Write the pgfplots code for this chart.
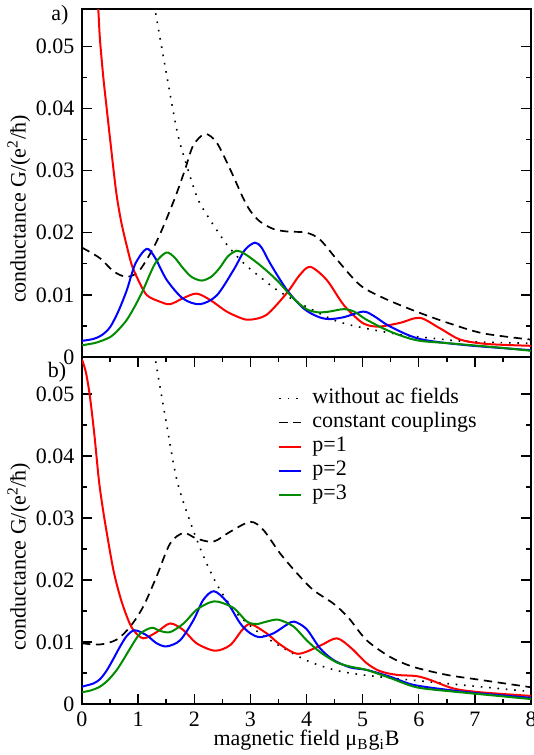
\documentclass[border=0pt]{standalone}
\usepackage{fontspec}
\setmainfont{Liberation Serif}
\usepackage{pgfplots}
\pgfplotsset{compat=1.18}
\definecolor{gred}{RGB}{255,0,0}
\definecolor{gblue}{RGB}{0,0,255}
\definecolor{ggreen}{RGB}{0,139,0}
\begin{document}
\fontsize{11}{13}\selectfont
\begin{tikzpicture}
\useasboundingbox (-41pt,-199pt) rectangle (226pt,178.5pt);
\pgfplotsset{
  common/.style={
    scale only axis, width=224.5pt,
    xmin=0, xmax=8, ymin=0, ymax=0.056,
    tick align=inside, ytick pos=both,
    ytick={0,0.01,0.02,0.03,0.04,0.05}, minor y tick num=1,
    yticklabel style={/pgf/number format/fixed,/pgf/number format/precision=2},
    scaled y ticks=false,
    /pgf/number format/assume math mode=true,
    tick label style={font=\fontsize{11}{13}\selectfont},
    label style={font=\fontsize{11}{13}\selectfont},
    major tick length=5pt, minor tick length=2.5pt,
    axis line style={line width=0.9pt},
    every tick/.style={black,line width=0.7pt},
    ylabel={conductance G/(e\textsuperscript{2}/ħ)},
    ylabel style={at={(axis description cs:-0.098,0.425)}, anchor=south},
    every axis plot/.append style={smooth},
  },
  pdot/.style={black, line width=0.8pt, dash pattern=on 0.8pt off 3.4pt},
  pdash/.style={black, line width=0.85pt, dash pattern=on 4.2pt off 2.8pt},
  pred/.style={gred, line width=1pt},
  pblue/.style={gblue, line width=1pt},
  pgreen/.style={ggreen, line width=1pt},
}
% ---------- panel a ----------
\begin{axis}[common, height=174pt, at={(0pt,0pt)}, anchor=south west,
  xtick=\empty]
\addplot[pdot] coordinates {(1.2,0.062) (1.30,0.056) (1.48,0.0468) (1.70,0.0361) (1.87,0.0307) (2.06,0.0255) (2.28,0.0221) (2.58,0.0181) (2.88,0.0151) (3.17,0.0129) (3.47,0.0108) (3.77,0.0092) (4.06,0.0078) (4.5,0.0059) (4.95,0.0048) (5.67,0.0036) (6.26,0.0030) (6.85,0.0025) (8,0.0022)};
\addplot[pdash] coordinates {(0,0.0176) (0.32,0.0159) (0.56,0.0138) (0.80,0.0129) (1.03,0.0140) (1.33,0.0186) (1.63,0.0250) (1.83,0.0300) (1.98,0.0340) (2.19,0.0359) (2.40,0.0345) (2.64,0.0302) (2.87,0.0256) (3.0,0.0235) (3.17,0.0218) (3.41,0.0206) (3.65,0.0202) (4.0,0.0200) (4.24,0.0189) (4.54,0.0157) (4.95,0.0116) (5.37,0.0095) (5.96,0.0073) (6.55,0.0054) (7.15,0.0038) (8,0.0028)};
\addplot[pred] coordinates {(0,0.115) (0.1,0.09) (0.2,0.070) (0.29,0.056) (0.32,0.0511) (0.38,0.045) (0.44,0.040) (0.52,0.0335) (0.61,0.0265) (0.70,0.0217) (0.80,0.0178) (0.88,0.0150) (0.97,0.0130) (1.15,0.0100) (1.39,0.0089) (1.57,0.0085) (1.81,0.0095) (2.04,0.0102) (2.28,0.0092) (2.58,0.0073) (2.85,0.0062) (3.0,0.0060) (3.29,0.0068) (3.65,0.0103) (3.88,0.0132) (4.07,0.0145) (4.36,0.0124) (4.66,0.0084) (4.95,0.0058) (5.1,0.0051) (5.31,0.0049) (5.67,0.0055) (6.02,0.0063) (6.38,0.0046) (6.74,0.0028) (7.21,0.0021) (8,0.0018)};
\addplot[pblue] coordinates {(0,0.0026) (0.2,0.0029) (0.35,0.0035) (0.5,0.0048) (0.65,0.0074) (0.8,0.0108) (0.95,0.0150) (1.15,0.0174) (1.30,0.0160) (1.51,0.0124) (1.8,0.0094) (2.10,0.0085) (2.4,0.0099) (2.7,0.0140) (2.9,0.0172) (3.08,0.0184) (3.2,0.0176) (3.35,0.0151) (3.65,0.0108) (3.95,0.0078) (4.2,0.0065) (4.4,0.0061) (4.66,0.0064) (5.01,0.0073) (5.2,0.0066) (5.49,0.0049) (6.02,0.0029) (6.85,0.0019) (8,0.0011)};
\addplot[pgreen] coordinates {(0,0.0019) (0.25,0.0023) (0.5,0.0032) (0.65,0.0044) (0.8,0.0060) (0.95,0.0083) (1.09,0.0108) (1.3,0.0150) (1.50,0.0168) (1.65,0.0160) (1.8,0.0143) (1.95,0.0129) (2.13,0.0123) (2.3,0.0129) (2.45,0.0143) (2.6,0.0162) (2.76,0.0171) (2.9,0.0166) (3.1,0.0153) (3.3,0.0138) (3.5,0.0121) (3.77,0.0094) (4.0,0.0077) (4.2,0.0072) (4.4,0.0073) (4.66,0.0077) (4.85,0.0073) (5.07,0.0060) (5.49,0.0041) (5.96,0.0027) (6.55,0.0022) (7.45,0.0015) (8,0.0010)};
\end{axis}
% ---------- panel b ----------
\begin{axis}[common, height=173.5pt, at={(0pt,0pt)}, anchor=north west,
  xtick={0,1,2,3,4,5,6,7,8}, minor x tick num=1, xtick pos=both, xticklabel pos=bottom,
  xlabel={magnetic field μ\textsubscript{B}g\textsubscript{i}B},
  xlabel style={at={(axis description cs:0.5,-0.121)}, anchor=base},
  legend style={at={(0.4365,0.916)}, anchor=north west, draw=none, fill=none, inner sep=0pt,
    font=\fontsize{11}{13}\selectfont, nodes={inner sep=1pt, text height=7.5pt, text depth=2.5pt},
    row sep=0pt, column sep=4pt, cells={anchor=west}},
  legend image code/.code={\draw[#1] (0pt,0pt) -- (11pt,0pt);}]
\addplot[pdot] coordinates {(1.2,0.062) (1.30,0.056) (1.5,0.0455) (1.70,0.0358) (1.98,0.0281) (2.22,0.0227) (2.46,0.0184) (2.76,0.0146) (3.17,0.0114) (3.65,0.0087) (4.06,0.0068) (4.54,0.0054) (5.0,0.0047) (5.6,0.0041) (6.5,0.0033) (8,0.0020)};
\addlegendentry{without ac fields}
\addplot[pdash] coordinates {(0,0.0098) (0.32,0.0096) (0.62,0.0104) (0.86,0.0125) (1.09,0.0157) (1.33,0.0206) (1.57,0.0259) (1.81,0.0276) (2.04,0.0267) (2.34,0.0262) (2.64,0.0278) (3.0,0.0294) (3.23,0.0281) (3.53,0.0243) (3.83,0.0211) (4.12,0.0184) (4.48,0.0162) (4.75,0.0139) (5.07,0.0103) (5.49,0.0076) (5.90,0.0060) (6.5,0.0047) (7.09,0.0039) (8,0.0027)};
\addlegendentry{constant couplings}
\addplot[pred] coordinates {(0,0.0556) (0.07,0.0535) (0.14,0.0497) (0.22,0.0435) (0.30,0.0362) (0.37,0.0316) (0.44,0.0277) (0.56,0.0216) (0.68,0.0173) (0.80,0.0141) (0.91,0.0120) (1.09,0.0106) (1.33,0.0116) (1.57,0.0130) (1.81,0.0119) (2.04,0.0098) (2.37,0.0086) (2.64,0.0095) (2.85,0.0119) (3.0,0.0129) (3.29,0.0114) (3.53,0.0096) (3.85,0.0081) (4.24,0.0094) (4.54,0.0106) (4.80,0.0090) (5.07,0.0066) (5.31,0.0053) (5.61,0.0047) (5.96,0.0045) (6.2,0.0039) (6.62,0.0025) (7.09,0.0019) (8,0.0013)};
\addlegendentry{p=1}
\addplot[pblue] coordinates {(0,0.0028) (0.2,0.0033) (0.32,0.0040) (0.44,0.0054) (0.56,0.0073) (0.68,0.0093) (0.80,0.0110) (0.94,0.0119) (1.15,0.0111) (1.33,0.0098) (1.51,0.0093) (1.75,0.0103) (1.99,0.0136) (2.16,0.0168) (2.35,0.0182) (2.58,0.0165) (2.82,0.0130) (3.0,0.0114) (3.17,0.0108) (3.41,0.0114) (3.65,0.0128) (3.78,0.0133) (4.0,0.0121) (4.24,0.0090) (4.48,0.0071) (4.78,0.0059) (5.07,0.0055) (5.49,0.0044) (5.90,0.0031) (6.5,0.0023) (7.09,0.0017) (8,0.0010)};
\addlegendentry{p=2}
\addplot[pgreen] coordinates {(0,0.0019) (0.16,0.0022) (0.32,0.0028) (0.47,0.0039) (0.62,0.0055) (0.74,0.0072) (0.86,0.0090) (1.03,0.0113) (1.24,0.0123) (1.39,0.0118) (1.57,0.0116) (1.81,0.0130) (2.04,0.0152) (2.28,0.0164) (2.43,0.0165) (2.70,0.0155) (2.94,0.0133) (3.11,0.0129) (3.29,0.0133) (3.50,0.0136) (3.77,0.0125) (4.0,0.0103) (4.24,0.0084) (4.54,0.0067) (4.80,0.0060) (5.07,0.0055) (5.49,0.0042) (5.96,0.0027) (6.62,0.0020) (8,0.0008)};
\addlegendentry{p=3}
\end{axis}
\node[font=\fontsize{11}{13}\selectfont] at (-11pt,171pt) {a)};
\node[font=\fontsize{11}{13}\selectfont] at (-12.5pt,-7.5pt) {b)};
\end{tikzpicture}
\end{document}
